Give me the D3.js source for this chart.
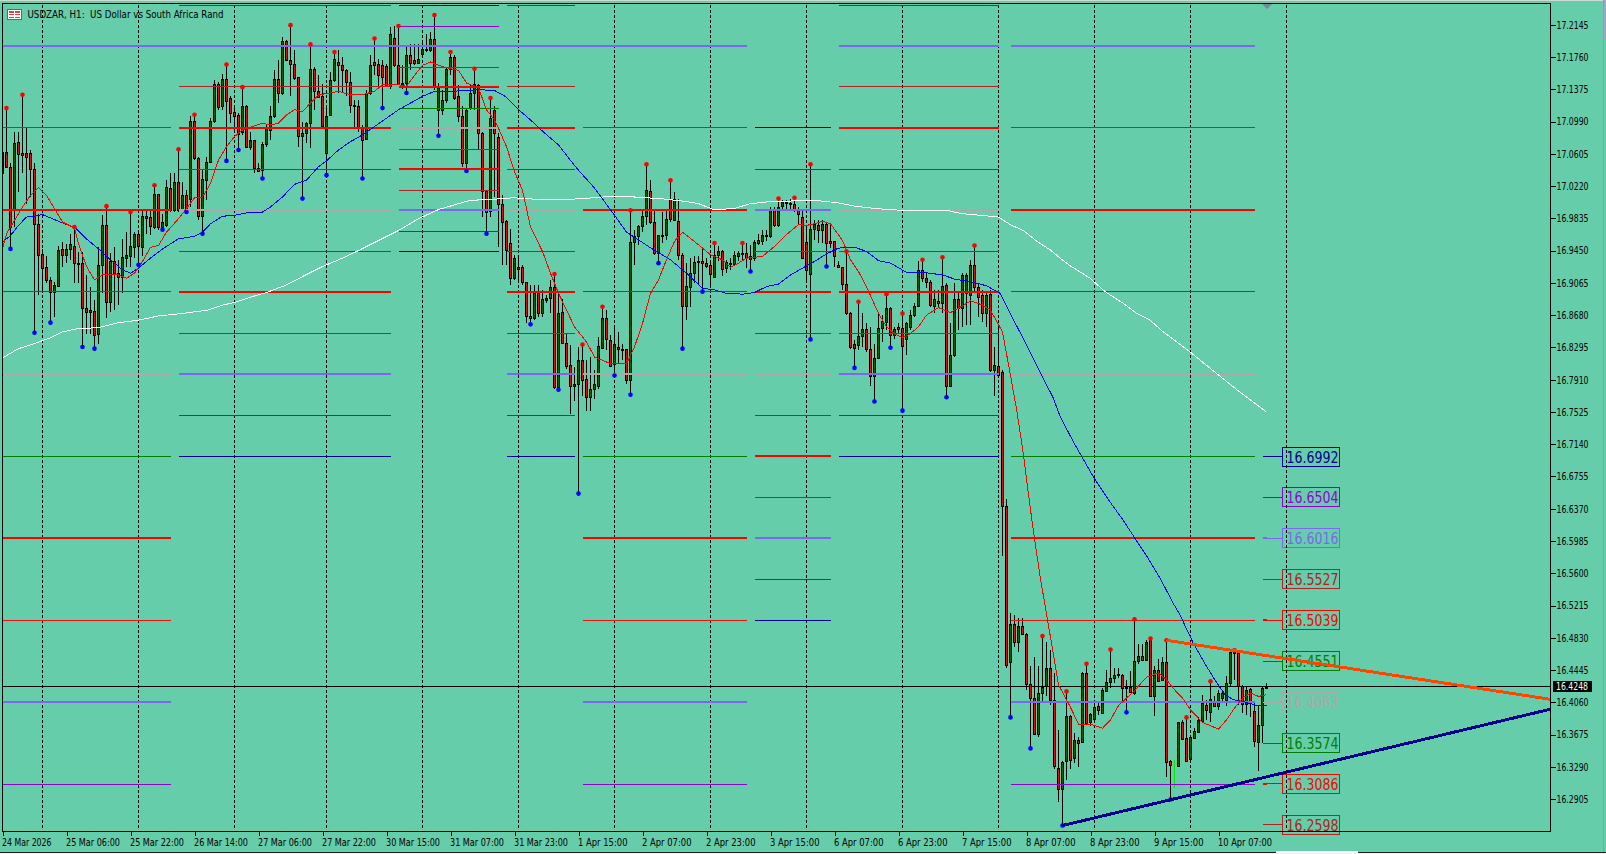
<!DOCTYPE html>
<html><head><meta charset="utf-8">
<script src="https://cdnjs.cloudflare.com/ajax/libs/d3/7.8.5/d3.min.js"></script>
<style>html,body{margin:0;padding:0;background:#66CDAA;overflow:hidden}svg{display:block}text{font-family:"DejaVu Sans",Arial,sans-serif}</style>
</head><body><script>
const opens=[
17.038,17.063,17.045,16.993,17.074,17.062,17.061,17.061,17.042,16.977,
16.941,16.925,16.910,16.896,16.903,16.947,16.940,16.947,16.951,16.930,
16.930,16.877,16.874,16.873,16.845,16.928,16.975,16.884,16.932,16.918,
16.914,16.936,16.938,16.949,16.965,16.949,16.984,16.985,16.973,17.012,
16.973,16.975,17.020,16.993,17.027,16.994,17.011,17.007,17.100,17.056,
16.986,17.029,17.051,17.100,17.144,17.117,17.150,17.127,17.110,17.107,
17.087,17.117,17.068,17.077,17.043,17.041,17.072,17.089,17.105,17.150,
17.133,17.195,17.173,17.168,17.152,17.082,17.085,17.097,17.162,17.135,
17.129,17.061,17.107,17.148,17.170,17.167,17.160,17.146,17.119,17.117,
17.093,17.078,17.133,17.170,17.168,17.166,17.165,17.141,17.199,17.166,
17.144,17.145,17.178,17.172,17.169,17.180,17.186,17.184,17.197,17.113,
17.113,17.125,17.162,17.176,17.129,17.105,17.049,17.115,17.133,17.143,
17.085,17.016,16.992,17.113,17.081,17.001,16.980,16.954,16.912,16.925,
16.925,16.908,16.867,16.864,16.894,16.871,16.886,16.888,16.902,16.782,
16.872,16.835,16.808,16.784,16.786,16.814,16.792,16.770,16.780,16.783,
16.829,16.864,16.838,16.810,16.830,16.828,16.827,16.790,16.955,16.962,
16.974,16.986,17.016,16.979,16.942,16.964,16.963,17.007,16.982,16.980,
16.940,16.879,16.902,16.918,16.932,16.932,16.930,16.928,16.913,16.940,
16.944,16.924,16.930,16.929,16.938,16.942,16.942,16.938,16.936,16.954,
16.957,16.962,16.962,16.995,16.975,16.998,17.003,17.002,17.001,16.995,
16.985,16.955,16.917,16.971,16.975,16.969,16.977,16.956,16.956,16.928,
16.925,16.905,16.870,16.833,16.832,16.843,16.851,16.827,16.795,16.817,
16.853,16.860,16.876,16.844,16.854,16.853,16.839,16.854,16.868,16.879,
16.922,16.912,16.908,16.879,16.885,16.883,16.904,16.784,16.821,16.887,
16.877,16.894,16.892,16.928,16.901,16.892,16.871,16.893,16.802,16.807,
16.800,16.640,16.454,16.499,16.478,16.497,16.488,16.428,16.411,16.368,
16.417,16.425,16.447,16.409,16.328,16.302,16.336,16.390,16.339,16.361,
16.359,16.441,16.382,16.386,16.402,16.393,16.420,16.430,16.435,16.440,
16.439,16.424,16.424,16.417,16.455,16.461,16.456,16.482,16.413,16.445,
16.433,16.454,16.336,16.321,16.330,16.382,16.363,16.338,16.363,16.370,
16.384,16.403,16.395,16.408,16.402,16.411,16.409,16.429,16.466,16.465,
16.425,16.404,16.422,16.396,16.359,16.379,16.423];
const highs=[
17.073,17.115,17.050,17.087,17.087,17.131,17.091,17.065,17.049,16.989,
16.947,16.938,16.914,16.908,16.951,16.955,16.953,16.965,16.973,16.943,
16.943,16.916,16.902,16.886,16.949,16.987,16.998,16.942,16.949,16.934,
16.959,16.967,16.991,16.967,16.967,16.995,16.995,16.995,17.023,17.013,
16.989,17.029,17.037,17.037,17.066,17.027,17.017,17.105,17.107,17.057,
17.041,17.057,17.103,17.148,17.146,17.156,17.167,17.129,17.117,17.109,
17.140,17.119,17.087,17.077,17.049,17.075,17.095,17.117,17.160,17.172,
17.200,17.196,17.214,17.184,17.152,17.099,17.099,17.191,17.164,17.154,
17.144,17.117,17.158,17.182,17.184,17.176,17.162,17.158,17.125,17.125,
17.095,17.137,17.178,17.198,17.174,17.172,17.168,17.212,17.213,17.213,
17.166,17.188,17.192,17.192,17.192,17.194,17.204,17.206,17.226,17.145,
17.137,17.164,17.182,17.178,17.143,17.117,17.115,17.143,17.162,17.144,
17.087,17.017,17.127,17.117,17.085,17.011,16.981,16.971,16.940,16.940,
16.928,16.908,16.904,16.904,16.904,16.898,16.892,16.910,16.917,16.894,
16.887,16.846,16.832,16.806,16.830,16.833,16.814,16.818,16.802,16.842,
16.878,16.874,16.844,16.854,16.848,16.834,16.828,16.993,16.970,16.975,
16.993,17.048,17.029,16.993,16.964,16.991,16.993,17.029,17.015,17.007,
16.942,16.930,16.936,16.938,16.938,16.948,16.936,16.930,16.954,16.950,
16.946,16.934,16.936,16.944,16.944,16.954,16.954,16.952,16.958,16.965,
16.970,16.970,16.997,16.997,17.007,17.005,17.005,17.007,17.008,16.997,
16.993,16.973,17.048,16.981,16.981,16.981,16.979,16.975,16.956,16.932,
16.926,16.944,16.872,16.838,16.884,16.870,16.858,16.854,16.834,16.870,
16.868,16.893,16.878,16.854,16.858,16.870,16.860,16.874,16.882,16.932,
16.934,16.918,16.910,16.898,16.898,16.937,16.906,16.858,16.906,16.894,
16.918,16.918,16.934,16.951,16.906,16.898,16.894,16.898,16.830,16.854,
16.802,16.648,16.513,16.510,16.506,16.506,16.489,16.449,16.460,16.449,
16.485,16.478,16.468,16.441,16.373,16.336,16.419,16.391,16.369,16.365,
16.442,16.452,16.393,16.407,16.405,16.423,16.445,16.469,16.447,16.447,
16.440,16.433,16.443,16.505,16.476,16.476,16.480,16.482,16.449,16.458,
16.460,16.480,16.337,16.337,16.383,16.385,16.388,16.367,16.375,16.389,
16.415,16.409,16.431,16.413,16.421,16.421,16.437,16.469,16.468,16.466,
16.427,16.425,16.423,16.405,16.403,16.424,16.429];
const lows=[
17.037,17.043,16.947,16.973,17.015,17.037,17.001,17.009,16.847,16.892,
16.894,16.906,16.859,16.866,16.902,16.926,16.930,16.934,16.906,16.906,
16.830,16.846,16.846,16.828,16.834,16.894,16.864,16.872,16.874,16.880,
16.894,16.926,16.926,16.936,16.928,16.938,16.965,16.963,16.971,16.969,
16.970,16.973,16.991,16.991,16.991,16.993,16.991,16.997,17.053,16.981,
16.965,17.005,17.049,17.097,17.113,17.113,17.052,17.097,17.085,17.065,
17.083,17.067,17.065,17.037,17.039,17.031,17.069,17.077,17.103,17.121,
17.131,17.172,17.129,17.148,17.069,17.007,17.073,17.067,17.113,17.127,
17.091,17.035,17.105,17.146,17.133,17.133,17.129,17.109,17.091,17.087,
17.031,17.077,17.131,17.154,17.140,17.115,17.140,17.138,17.164,17.143,
17.138,17.133,17.160,17.166,17.168,17.178,17.182,17.182,17.137,17.082,
17.107,17.121,17.154,17.125,17.099,17.045,17.040,17.113,17.113,17.065,
16.985,16.965,16.985,17.009,16.949,16.928,16.928,16.904,16.910,16.906,
16.904,16.858,16.857,16.862,16.866,16.866,16.882,16.870,16.780,16.779,
16.834,16.804,16.750,16.765,16.655,16.771,16.753,16.753,16.768,16.780,
16.828,16.826,16.806,16.796,16.810,16.814,16.786,16.773,16.928,16.952,
16.967,16.975,16.977,16.940,16.930,16.954,16.958,16.979,16.981,16.934,
16.828,16.862,16.878,16.906,16.904,16.896,16.924,16.901,16.912,16.932,
16.915,16.918,16.922,16.928,16.933,16.934,16.924,16.920,16.932,16.952,
16.952,16.956,16.960,16.973,16.973,16.993,16.995,16.995,16.991,16.977,
16.936,16.908,16.839,16.958,16.954,16.954,16.926,16.948,16.926,16.924,
16.898,16.868,16.828,16.805,16.826,16.830,16.824,16.783,16.765,16.816,
16.836,16.850,16.829,16.840,16.845,16.754,16.820,16.850,16.866,16.878,
16.908,16.900,16.878,16.870,16.878,16.870,16.770,16.782,16.818,16.850,
16.854,16.856,16.856,16.894,16.866,16.860,16.854,16.800,16.771,16.794,
16.580,16.447,16.388,16.472,16.466,16.486,16.421,16.351,16.367,16.365,
16.405,16.413,16.403,16.327,16.287,16.259,16.313,16.327,16.333,16.329,
16.357,16.380,16.378,16.385,16.391,16.392,16.419,16.423,16.429,16.435,
16.408,16.394,16.417,16.415,16.452,16.455,16.455,16.413,16.390,16.431,
16.431,16.317,16.290,16.304,16.329,16.361,16.335,16.334,16.362,16.369,
16.383,16.385,16.383,16.401,16.397,16.407,16.401,16.424,16.433,16.403,
16.393,16.391,16.389,16.353,16.324,16.357,16.422];
const closes=[
17.063,17.045,16.973,17.073,17.060,17.059,17.057,17.042,16.977,16.940,
16.924,16.910,16.896,16.904,16.946,16.940,16.947,16.953,16.930,16.929,
16.877,16.872,16.872,16.844,16.928,16.975,16.884,16.932,16.918,16.914,
16.937,16.940,16.950,16.965,16.950,16.986,16.986,16.974,17.012,16.973,
16.979,17.021,16.993,17.027,16.994,17.011,16.995,17.100,17.056,16.986,
17.030,17.051,17.100,17.144,17.116,17.150,17.123,17.109,17.105,17.084,
17.117,17.068,17.077,17.043,17.040,17.072,17.091,17.105,17.150,17.133,
17.195,17.173,17.168,17.151,17.082,17.085,17.097,17.162,17.135,17.128,
17.094,17.105,17.148,17.174,17.167,17.161,17.146,17.119,17.117,17.092,
17.077,17.133,17.167,17.167,17.155,17.152,17.141,17.203,17.166,17.144,
17.145,17.178,17.169,17.169,17.174,17.185,17.184,17.198,17.140,17.140,
17.125,17.162,17.176,17.127,17.105,17.049,17.113,17.133,17.144,17.085,
17.016,16.991,17.103,17.085,17.001,16.979,16.946,16.912,16.936,16.923,
16.908,16.867,16.864,16.894,16.871,16.887,16.888,16.902,16.782,16.871,
16.835,16.807,16.784,16.786,16.814,16.790,16.770,16.780,16.786,16.831,
16.864,16.840,16.807,16.834,16.827,16.827,16.790,16.955,16.962,16.974,
16.986,17.017,16.979,16.942,16.963,16.963,16.983,16.983,17.007,16.940,
16.879,16.903,16.918,16.931,16.931,16.930,16.927,16.917,16.940,16.945,
16.923,16.931,16.929,16.940,16.942,16.941,16.936,16.935,16.955,16.958,
16.963,16.964,16.995,16.975,16.997,17.003,17.002,17.001,16.995,16.989,
16.936,16.922,16.971,16.977,16.969,16.977,16.954,16.954,16.938,16.925,
16.905,16.870,16.830,16.829,16.843,16.851,16.827,16.795,16.817,16.853,
16.861,16.876,16.844,16.852,16.852,16.831,16.858,16.868,16.879,16.922,
16.912,16.907,16.880,16.887,16.883,16.903,16.784,16.821,16.887,16.877,
16.916,16.916,16.928,16.901,16.890,16.871,16.892,16.802,16.808,16.796,
16.640,16.451,16.499,16.478,16.497,16.488,16.428,16.411,16.368,16.417,
16.424,16.447,16.409,16.330,16.302,16.335,16.390,16.337,16.361,16.357,
16.441,16.381,16.392,16.400,16.397,16.421,16.430,16.435,16.438,16.439,
16.423,16.423,16.418,16.455,16.461,16.456,16.478,16.413,16.445,16.432,
16.454,16.335,16.331,16.321,16.382,16.362,16.336,16.365,16.372,16.385,
16.405,16.397,16.410,16.402,16.417,16.417,16.429,16.466,16.465,16.425,
16.404,16.421,16.405,16.360,16.379,16.423,16.4248];

const limeBars=[293];
const swingHighs=[1,5,18,26,32,38,44,48,56,60,72,77,83,93,99,108,112,118,122,138,145,150,157,161,167,178,185,194,198,202,211,214,221,225,230,235,243,260,266,271,277,283,287,291,296,302,308];
const swingLows=[2,8,12,20,23,34,40,46,50,56,59,65,75,81,90,95,101,109,116,121,132,139,144,153,157,164,170,175,187,202,206,213,218,222,225,236,252,257,265,281,292];

const fastBars=[0,1,3,5,7,9,11,13,15,18,19,21,23,25,27,29,31,33,35,37,39,41,44,46,48,50,52,54,56,58,60,63,65,67,69,71,73,75,77,79,82,84,87,90,93,95,99,101,103,105,107,109,112,114,116,119,121,123,124,126,128,130,132,135,137,139,143,146,148,152,156,158,160,162,164,166,168,170,174,177,180,182,184,186,190,193,196,199,201,203,205,207,210,212,214,216,219,221,223,225,227,229,231,234,237,240,242,245,247,250,252,253.6,255.2,256.9,258.2,259.4,261.2,264,266.9,269,272,275,277,279,281,283,286,289,291,293,295,297,300,304,306,308,310,312,314,316];
const fastVals=[16.947,16.965,16.981,16.997,17.011,17.020,17.011,16.995,16.979,16.972,16.953,16.926,16.910,16.916,16.917,16.916,16.912,16.918,16.932,16.949,16.951,16.967,16.983,16.995,17.008,17.009,17.025,17.053,17.069,17.081,17.089,17.094,17.097,17.095,17.097,17.107,17.113,17.111,17.121,17.131,17.133,17.135,17.131,17.131,17.135,17.143,17.143,17.141,17.154,17.166,17.170,17.166,17.162,17.160,17.145,17.139,17.113,17.101,17.091,17.069,17.039,17.017,16.973,16.944,16.918,16.894,16.854,16.836,16.818,16.810,16.810,16.830,16.858,16.894,16.910,16.934,16.956,16.967,16.952,16.940,16.934,16.925,16.930,16.936,16.938,16.950,16.964,16.976,16.975,16.977,16.980,16.977,16.957,16.934,16.920,16.902,16.870,16.854,16.846,16.841,16.846,16.854,16.868,16.877,16.871,16.879,16.885,16.880,16.874,16.848,16.796,16.753,16.703,16.639,16.595,16.556,16.506,16.427,16.401,16.380,16.380,16.375,16.385,16.402,16.411,16.420,16.436,16.441,16.433,16.421,16.411,16.397,16.382,16.374,16.385,16.399,16.411,16.417,16.413,16.415];

const midBars=[0,2,4,6,8,10,12,15,18,21,24,27,30,32,34,37,40,44,48,50,52,55,58,61,65,67,70,73,76,79,81,84,87,90,93,96,99,102,105,108,112,116,119,123,125.7,129,132,134.4,139,143.6,147.75,152.75,156,158.6,162.75,167,171,175,178,181,185,188,191,194,197,200,203,206,209,213,216,219,222,226,230,235,238,242,246,249.4,251.9,255.2,259.4,262.7,264.4,267.7,272.7,276.9,280.2,283.2,286,289.4,292.7,294.4,297.75,301,303.6,305.7,307.75,310.25,313.6,316];
const midVals=[16.955,16.963,16.975,16.985,16.986,16.988,16.984,16.978,16.973,16.959,16.947,16.934,16.922,16.918,16.924,16.936,16.947,16.959,16.962,16.967,16.977,16.986,16.987,16.990,16.991,16.997,17.009,17.024,17.029,17.045,17.052,17.065,17.075,17.083,17.093,17.103,17.113,17.121,17.129,17.135,17.135,17.136,17.137,17.136,17.129,17.113,17.101,17.090,17.071,17.043,17.021,16.989,16.967,16.959,16.946,16.934,16.918,16.900,16.898,16.894,16.893,16.895,16.902,16.905,16.916,16.924,16.932,16.941,16.948,16.949,16.944,16.933,16.930,16.919,16.919,16.916,16.911,16.908,16.903,16.894,16.870,16.840,16.800,16.769,16.747,16.717,16.675,16.645,16.623,16.601,16.581,16.554,16.524,16.510,16.476,16.449,16.429,16.415,16.409,16.407,16.402,16.402];

const slowBars=[0,4,8,12,15,19,24,29,34,39,45,51.3,55,58,61,66,71,75,80,85,89,94,99,104,109,114,117,122,127.75,134,141.5,147.75,152.75,157.75,164.4,170.25,174,177.75,182.75,187,191,196,202.75,209,213,218.6,225,236,240,246.9,249,251.9,255.2,258.6,261.9,264.4,266.9,271.9,275.65,280.2,283.6,286.9,290.2,296.9,303.6,309.4,313.6,315.8];
const slowVals=[16.817,16.828,16.834,16.841,16.848,16.852,16.853,16.859,16.862,16.867,16.870,16.874,16.880,16.883,16.888,16.895,16.904,16.914,16.926,16.936,16.945,16.957,16.969,16.983,16.994,17.001,17.005,17.006,17.008,17.006,17.006,17.008,17.010,17.009,17.007,17.004,17.001,16.994,16.995,17.001,17.003,17.004,17.005,17.002,16.998,16.995,16.993,16.993,16.989,16.986,16.985,16.976,16.969,16.956,16.946,16.936,16.927,16.912,16.896,16.882,16.870,16.862,16.848,16.824,16.798,16.776,16.761,16.753];

const pivotLevels=[16.2596,16.3082,16.3574,16.4064,16.4547,16.5039,16.5528,16.6021,16.6506,16.6996,16.7485,16.7978,16.8463,16.8956,16.9441,16.9934,17.0420,17.0913,17.1402,17.1891,17.2377];
const segStart=[0,44,126,145,188,209,252];
const segEnd=[42,97,143,186,207,249,313];
const segLevels=[[17,15,13,11,9,7,5,3,1],[20,18,17,16,15,14,13,12,11,10,9],[20,18,17,16,15,14,13,12,11,10,9],[17,15,13,11,9,7,5,3,1],[17,16,15,14,13,12,11,10,9,8,7,6,5],[20,19,18,17,16,15,14,13,12,11,10,9],[19,17,15,13,11,9,7,5,3,1]];
const segKinds=["rRgAgRrSv","ibRgAgRbSid","ibRgAgRbSid","rRgAgRrSv","diSbRgAgRbSid","iSbRgAgRbSid","SrRgAgRrSv"];
const halfStart=99,halfEnd=124;
const halfPrices=[17.2377,17.2126,17.1637,17.1402,17.1151,17.0913,17.0659,17.0420,17.0170,16.9934,16.9680,16.9441];
const halfKinds="dvbRgAgRbSid";
const longStart=0,longEnd=186,longLevel=19;
const kindColor={r:"#f01010",R:"#ff0000",g:"#008000",A:"#a9a9a9",S:"#7b68ee",b:"#b22222",v:"#9400d3",i:"#6418c0",d:"#00008b"};
const kindWidth={R:2,A:2,S:2};

const tagPrices=[16.6992,16.6504,16.6016,16.5527,16.5039,16.4551,16.4063,16.3574,16.3086,16.2598];
const tagColors=["#00008b","#9400d3","#7b68ee","#b22222","#ff0000","#008000","#a9a9a9","#008000","#ff0000","#b22222"];
const tagStubs=[2,4,8];
const tagStart=315,tagEnd=320;

const resistBars=[291,386.9],resistVals=[16.480,16.4096];
const supportBars=[265,386.9],supportVals=[16.259,16.3977];
const lastPrice=16.4248;
const dayBreaks=[10,34,58,81,105,129,153,177,201,225,249,273,297,321];
const priceTicks=[17.2145,17.1760,17.1375,17.0990,17.0605,17.0220,16.9835,16.9450,16.9065,16.8680,16.8295,16.7910,16.7525,16.7140,16.6755,16.6370,16.5985,16.5600,16.5215,16.4830,16.4445,16.4060,16.3675,16.3290,16.2905];
const timeLabels=["24 Mar 2026","25 Mar 06:00","25 Mar 22:00","26 Mar 14:00","27 Mar 06:00","27 Mar 22:00","30 Mar 15:00","31 Mar 07:00","31 Mar 23:00","1 Apr 15:00","2 Apr 07:00","2 Apr 23:00","3 Apr 15:00","6 Apr 07:00","6 Apr 23:00","7 Apr 15:00","8 Apr 07:00","8 Apr 23:00","9 Apr 15:00","10 Apr 07:00"];
const timeTickBars=timeLabels.map((_,i)=>i*16);
const chartTitle="USDZAR, H1:  US Dollar vs South Africa Rand";

const W=1606,H=854,plotL=2.5,plotR=1550.5,plotT=3.5,plotB=831.5,uiFont="DejaVu Sans";
const xS=d3.scaleLinear().domain([0,387]).range([plotL,plotR]);
const yS=d3.scaleLinear().domain([17.2440,16.4060]).range([0,702.3]);
const svg=d3.select("body").append("svg").attr("width",W).attr("height",H);
svg.append("rect").attr("width",W).attr("height",H).attr("fill","#66CDAA");
// window chrome
svg.append("rect").attr("width",W).attr("height",1).attr("fill","#c9ddd6");
svg.append("rect").attr("x",1603).attr("width",1).attr("height",H).attr("fill","#9a9a9a");
svg.append("rect").attr("x",1604).attr("width",2).attr("height",40).attr("fill","#9fa6c8");
svg.append("rect").attr("y",852).attr("width",1276).attr("height",1).attr("fill","#222");
svg.append("rect").attr("x",1358).attr("y",852).attr("width",248).attr("height",1).attr("fill","#222");
svg.append("rect").attr("x",1276).attr("y",851).attr("width",82).attr("height",3).attr("fill","#fff");
svg.append("rect").attr("y",853).attr("width",W).attr("height",1).attr("fill","#f0f0f0");

svg.append("defs").append("clipPath").attr("id","plot").append("rect").attr("x",plotL).attr("y",plotT).attr("width",plotR-plotL).attr("height",plotB-plotT);
const plot=svg.append("g").attr("clip-path","url(#plot)").attr("shape-rendering","crispEdges");

// day separators
plot.append("g").selectAll("line").data(dayBreaks).join("line")
 .attr("x1",d=>xS(d)).attr("x2",d=>xS(d)).attr("y1",plotT+1).attr("y2",828.5)
 .attr("stroke","#000").attr("stroke-dasharray","3,2");
// last price
plot.append("line").attr("x1",plotL).attr("x2",plotR).attr("y1",Math.floor(yS(lastPrice))+.5).attr("y2",Math.floor(yS(lastPrice))+.5).attr("stroke","#000");

// candles
const bars=d3.range(opens.length);
const isLime=i=>limeBars.includes(i);
const cx=i=>Math.floor(xS(i));
plot.append("g").selectAll("line").data(bars).join("line")
 .attr("x1",i=>cx(i)+.5).attr("x2",i=>cx(i)+.5).attr("y1",i=>yS(highs[i])).attr("y2",i=>yS(lows[i]))
 .attr("stroke",i=>isLime(i)?"#00e800":"#000");
const bodies=bars.filter(i=>!isLime(i));
const bt=i=>Math.round(yS(Math.max(opens[i],closes[i])));
const bb=i=>Math.max(bt(i)+1,Math.round(yS(Math.min(opens[i],closes[i]))));
plot.append("g").selectAll("rect").data(bodies).join("rect")
 .attr("x",i=>cx(i)-1).attr("width",3).attr("y",bt).attr("height",i=>bb(i)-bt(i)+1).attr("fill","#000");
plot.append("g").selectAll("rect").data(bodies.filter(i=>bb(i)-bt(i)>=2)).join("rect")
 .attr("x",i=>cx(i)).attr("width",1).attr("y",i=>bt(i)+1).attr("height",i=>bb(i)-bt(i)-1)
 .attr("fill",i=>closes[i]>=opens[i]?"#006400":"#ff0000");

// level segments
const segs=[];
segLevels.forEach((ks,g)=>ks.forEach((k,j)=>segs.push({a:segStart[g],b:segEnd[g],p:pivotLevels[k],kind:segKinds[g][j]})));
halfPrices.forEach((p,j)=>segs.push({a:halfStart,b:halfEnd,p,kind:halfKinds[j]}));
segs.push({a:longStart,b:longEnd,p:pivotLevels[longLevel],kind:"S"});
plot.append("g").selectAll("line").data(segs).join("line")
 .attr("x1",d=>xS(d.a)).attr("x2",d=>xS(d.b)).attr("y1",d=>yS(d.p)).attr("y2",d=>yS(d.p))
 .attr("stroke",d=>kindColor[d.kind]).attr("stroke-width",d=>kindWidth[d.kind]||1);

// moving averages
const pathOf=(xs,ys)=>d3.line().x((d,i)=>xS(xs[i])).y((d,i)=>yS(ys[i]))(xs);
plot.append("path").attr("d",pathOf(slowBars,slowVals)).attr("fill","none").attr("stroke","#fff");
plot.append("path").attr("d",pathOf(midBars,midVals)).attr("fill","none").attr("stroke","#0000ff");
plot.append("path").attr("d",pathOf(fastBars,fastVals)).attr("fill","none").attr("stroke","#ff0000");

// swing dots
const dots=svg.append("g").attr("clip-path","url(#plot)");
dots.selectAll(".hi").data(swingHighs).join("circle").attr("class","hi").attr("cx",i=>cx(i)+.5).attr("cy",i=>yS(highs[i])).attr("r",2.3).attr("fill","#ff0000");
dots.selectAll(".lo").data(swingLows).join("circle").attr("class","lo").attr("cx",i=>cx(i)+.5).attr("cy",i=>yS(lows[i])).attr("r",2.3).attr("fill","#0000ff");

// price tags
const tags=svg.append("g").attr("shape-rendering","crispEdges");
tags.selectAll("line.t").data(tagPrices).join("line").attr("class","t")
 .attr("x1",xS(tagStart)).attr("x2",xS(tagEnd)).attr("y1",d=>yS(d)).attr("y2",d=>yS(d)).attr("stroke",(d,i)=>tagColors[i]);
tags.selectAll("line.s").data(tagStubs).join("line").attr("class","s")
 .attr("x1",xS(tagStart)).attr("x2",xS(tagStart+1)).attr("y1",i=>yS(tagPrices[i])).attr("y2",i=>yS(tagPrices[i])).attr("stroke",i=>tagColors[i]).attr("stroke-width",2);
tags.selectAll("rect").data(tagPrices).join("rect")
 .attr("x",xS(tagEnd)).attr("y",d=>Math.round(yS(d))-9.5).attr("width",57).attr("height",19)
 .attr("fill","none").attr("stroke",(d,i)=>tagColors[i]);
tags.selectAll("text").data(tagPrices).join("text")
 .attr("x",xS(tagEnd)+4).attr("y",d=>Math.round(yS(d))+6).attr("font-size",15.5).attr("textLength",52).attr("lengthAdjust","spacingAndGlyphs")
 .attr("font-family",uiFont).attr("fill",(d,i)=>tagColors[i]).text(d=>d.toFixed(4));
// separator on top of tags
const lastSep=dayBreaks[dayBreaks.length-1];
svg.append("line").attr("x1",xS(lastSep)).attr("x2",xS(lastSep)).attr("y1",plotT+1).attr("y2",828.5).attr("stroke","#000").attr("stroke-dasharray","3,2").attr("shape-rendering","crispEdges");

// trend lines
const trend=svg.append("g").attr("clip-path","url(#plot)");
trend.append("path").attr("d",pathOf(resistBars,resistVals)).attr("fill","none").attr("stroke","#ff4500").attr("stroke-width",3).attr("shape-rendering","crispEdges");
trend.append("path").attr("d",pathOf(supportBars,supportVals)).attr("fill","none").attr("stroke","#00008b").attr("stroke-width",3).attr("shape-rendering","crispEdges");

// frame + axes
svg.append("rect").attr("x",plotL).attr("y",plotT).attr("width",plotR-plotL).attr("height",plotB-plotT).attr("fill","none").attr("stroke","#000").attr("shape-rendering","crispEdges");
const yAxis=d3.axisRight(yS).tickValues(priceTicks).tickFormat(d3.format(".4f")).tickSize(5).tickPadding(1);
const gy=svg.append("g").attr("transform",`translate(${plotR},0)`).call(yAxis);
gy.select(".domain").remove();
gy.selectAll("text").attr("font-size",10.5).attr("font-family",uiFont).attr("fill","#000").attr("textLength",32).attr("lengthAdjust","spacingAndGlyphs");
gy.selectAll("line").attr("shape-rendering","crispEdges");
const xAxis=d3.axisBottom(xS).tickValues(timeTickBars).tickFormat((d,i)=>timeLabels[i]).tickSize(4).tickPadding(3);
const gx=svg.append("g").attr("transform",`translate(0,${plotB})`).call(xAxis);
gx.select(".domain").remove();
gx.selectAll("line").attr("shape-rendering","crispEdges");
gx.selectAll("text").attr("font-size",10.5).attr("font-family",uiFont).attr("fill","#000").attr("text-anchor","start").attr("dx",-1)
 .attr("textLength",(d,i)=>timeLabels[i].length*4.5).attr("lengthAdjust","spacingAndGlyphs");

// last price tag
const ly=Math.floor(yS(lastPrice));
svg.append("rect").attr("x",1553).attr("y",ly-5).attr("width",39).attr("height",11).attr("fill","#000");
svg.append("text").attr("x",1556).attr("y",ly+4).attr("font-size",10.5).attr("font-family",uiFont).attr("fill","#fff").attr("textLength",32).attr("lengthAdjust","spacingAndGlyphs").text(lastPrice.toFixed(4));

// shift marker
svg.append("path").attr("d",d3.line()([[xS(316)-4.5,4],[xS(316)+5.5,4],[xS(316)+.5,9]])+"Z").attr("fill","#78889a");

// title
const ic=svg.append("g").attr("shape-rendering","crispEdges").attr("transform","translate(7,9)");
ic.append("rect").attr("x",.5).attr("y",.5).attr("width",14).attr("height",10).attr("fill","#fff").attr("stroke","#3a6ea5");
[[2,2,1.5],[8,2,1.5],[2,5,1],[8,5,1],[2,8,1],[8,8,1]].forEach(r=>ic.append("rect").attr("x",r[0]).attr("y",r[1]).attr("width",5).attr("height",r[2]).attr("fill","#e04040"));
svg.append("text").attr("x",27.5).attr("y",18).attr("font-size",10.5).attr("font-family",uiFont).attr("fill","#000").attr("textLength",196).attr("lengthAdjust","spacingAndGlyphs").style("white-space","pre").text(chartTitle);
</script></body></html>
